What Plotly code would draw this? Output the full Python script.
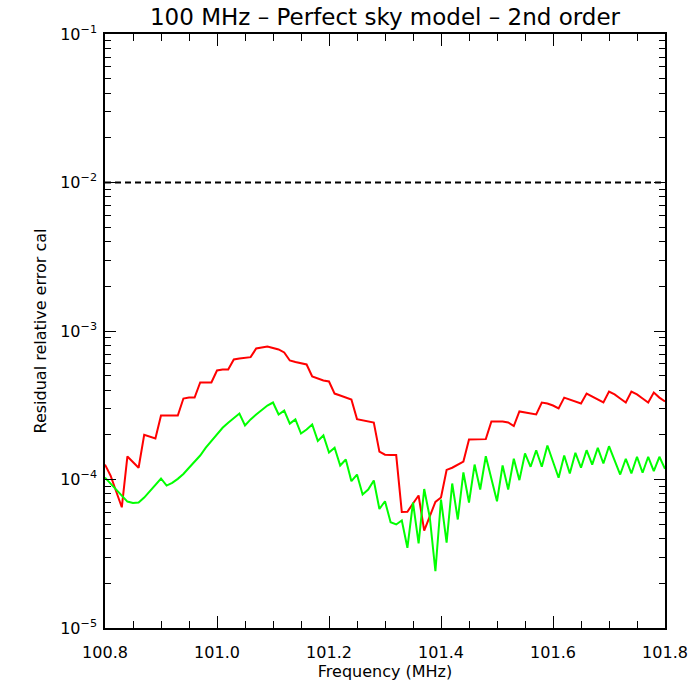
import plotly.graph_objects as go

freq_start = 100.8
freq_step = 0.01
n_points = 101
freq = [round(freq_start + freq_step * i, 2) for i in range(n_points)]

red_err = [
    1.26e-4, 1.06e-4, 8.3e-5, 6.5e-5, 1.43e-4, 1.32e-4, 1.2e-4, 2.0e-4, 1.95e-4, 1.89e-4,
    2.7e-4, 2.7e-4, 2.7e-4, 2.7e-4, 3.51e-4, 3.56e-4, 3.56e-4, 4.5e-4, 4.5e-4, 4.5e-4,
    5.42e-4, 5.5e-4, 5.5e-4, 6.43e-4, 6.53e-4, 6.63e-4, 6.67e-4, 7.62e-4, 7.74e-4, 7.86e-4,
    7.68e-4, 7.51e-4, 7.17e-4, 6.33e-4, 6.18e-4, 6.09e-4, 5.95e-4, 4.94e-4, 4.79e-4, 4.64e-4,
    4.57e-4, 3.79e-4, 3.68e-4, 3.56e-4, 3.46e-4, 2.55e-4, 2.5e-4, 2.46e-4, 2.42e-4, 1.54e-4,
    1.47e-4, 1.46e-4, 1.46e-4, 6.04e-5, 6.07e-5, 6.89e-5, 7.8e-5, 4.53e-5, 5.63e-5, 7.06e-5,
    7.56e-5, 1.16e-4, 1.2e-4, 1.26e-4, 1.32e-4, 1.86e-4, 1.86e-4, 1.86e-4, 1.87e-4, 2.46e-4,
    2.46e-4, 2.46e-4, 2.42e-4, 2.29e-4, 2.87e-4, 2.83e-4, 2.78e-4, 2.74e-4, 3.3e-4, 3.25e-4,
    3.15e-4, 3.01e-4, 3.56e-4, 3.46e-4, 3.35e-4, 3.25e-4, 3.79e-4, 3.62e-4, 3.46e-4, 3.3e-4,
    3.91e-4, 3.74e-4, 3.51e-4, 3.3e-4, 3.91e-4, 3.74e-4, 3.51e-4, 3.3e-4, 3.85e-4, 3.56e-4,
    3.35e-4,
]

green_err = [
    1.03e-4, 9.4e-5, 8.56e-5, 7.72e-5, 7.1e-5, 6.95e-5, 7.0e-5, 7.56e-5, 8.34e-5, 9.2e-5,
    1.016e-4, 9.1e-5, 9.5e-5, 1.01e-4, 1.09e-4, 1.2e-4, 1.31e-4, 1.45e-4, 1.64e-4, 1.81e-4,
    2.01e-4, 2.23e-4, 2.41e-4, 2.6e-4, 2.78e-4, 2.31e-4, 2.54e-4, 2.74e-4, 2.96e-4, 3.15e-4,
    3.3e-4, 2.74e-4, 2.91e-4, 2.38e-4, 2.54e-4, 2.04e-4, 2.17e-4, 2.35e-4, 1.82e-4, 1.98e-4,
    1.52e-4, 1.635e-4, 1.243e-4, 1.364e-4, 9.74e-5, 1.08e-4, 7.92e-5, 8.56e-5, 9.85e-5, 6.33e-5,
    7.14e-5, 5.16e-5, 4.98e-5, 5.3e-5, 3.47e-5, 7.0e-5, 3.71e-5, 8.63e-5, 5.55e-5, 2.41e-5,
    7.33e-5, 3.76e-5, 9.4e-5, 5.38e-5, 1.115e-4, 7.0e-5, 1.26e-4, 8.56e-5, 1.435e-4, 1.016e-4,
    7.14e-5, 1.243e-4, 8.56e-5, 1.379e-4, 9.9e-5, 1.497e-4, 1.218e-4, 1.575e-4, 1.218e-4, 1.694e-4,
    1.32e-4, 1.027e-4, 1.45e-4, 1.098e-4, 1.513e-4, 1.2e-4, 1.575e-4, 1.26e-4, 1.635e-4, 1.281e-4,
    1.676e-4, 1.342e-4, 1.08e-4, 1.379e-4, 1.098e-4, 1.422e-4, 1.11e-4, 1.422e-4, 1.137e-4, 1.422e-4,
    1.18e-4,
]

threshold = 1e-2
x_range = [100.8, 101.8]
x_tickvals = [100.8, 101.0, 101.2, 101.4, 101.6, 101.8]
x_ticktext = ["100.8", "101.0", "101.2", "101.4", "101.6", "101.8"]
y_tickvals = [1e-5, 1e-4, 1e-3, 1e-2, 1e-1]
y_ticktext = ["10<sup>−5</sup>", "10<sup>−4</sup>", "10<sup>−3</sup>", "10<sup>−2</sup>", "10<sup>−1</sup>"]

font_family = "DejaVu Sans, Liberation Sans, sans-serif"

fig = go.Figure()
fig.add_trace(go.Scatter(x=freq, y=red_err, mode="lines",
                         line=dict(color="#FF0000", width=2), showlegend=False))
fig.add_trace(go.Scatter(x=freq, y=green_err, mode="lines",
                         line=dict(color="#00FF00", width=2), showlegend=False))
fig.add_trace(go.Scatter(x=x_range, y=[threshold, threshold], mode="lines",
                         line=dict(color="black", width=2, dash="6px,4px"), showlegend=False))

fig.update_layout(
    width=700, height=700,
    margin=dict(l=105, r=32, t=34, b=72),
    paper_bgcolor="white", plot_bgcolor="white",
    font=dict(family=font_family, color="black", size=16),
    title=dict(text="100 MHz – Perfect sky model – 2nd order", x=0.5, xref="paper",
               y=1 - 17 / 700, yref="container", xanchor="center", yanchor="middle",
               font=dict(size=23, family=font_family, color="black")),
)

fig.update_xaxes(
    range=x_range, showgrid=False, zeroline=False,
    showline=True, linecolor="black", linewidth=1.5, mirror="allticks",
    ticks="inside", ticklen=12, tickwidth=1, tickcolor="black",
    tickvals=x_tickvals, ticktext=x_ticktext,
    minor=dict(ticks="inside", ticklen=7, dtick=0.05, tick0=100.8, tickcolor="black", showgrid=False),
    title=dict(text="Frequency (MHz)", font=dict(size=16), standoff=5),
    tickfont=dict(size=16),
    ticklabelstandoff=9,
)
fig.update_yaxes(
    type="log", range=[-5, -1], showgrid=False, zeroline=False,
    showline=True, linecolor="black", linewidth=1.5, mirror="allticks",
    ticks="inside", ticklen=11, tickwidth=1, tickcolor="black",
    tickvals=y_tickvals, ticktext=y_ticktext,
    minor=dict(ticks="inside", ticklen=6, dtick="D1", tickcolor="black", showgrid=False),
    title=dict(text="Residual relative error cal", font=dict(size=16), standoff=10),
    tickfont=dict(size=16),
    ticklabelstandoff=3,
)

fig.write_html("out.html")
